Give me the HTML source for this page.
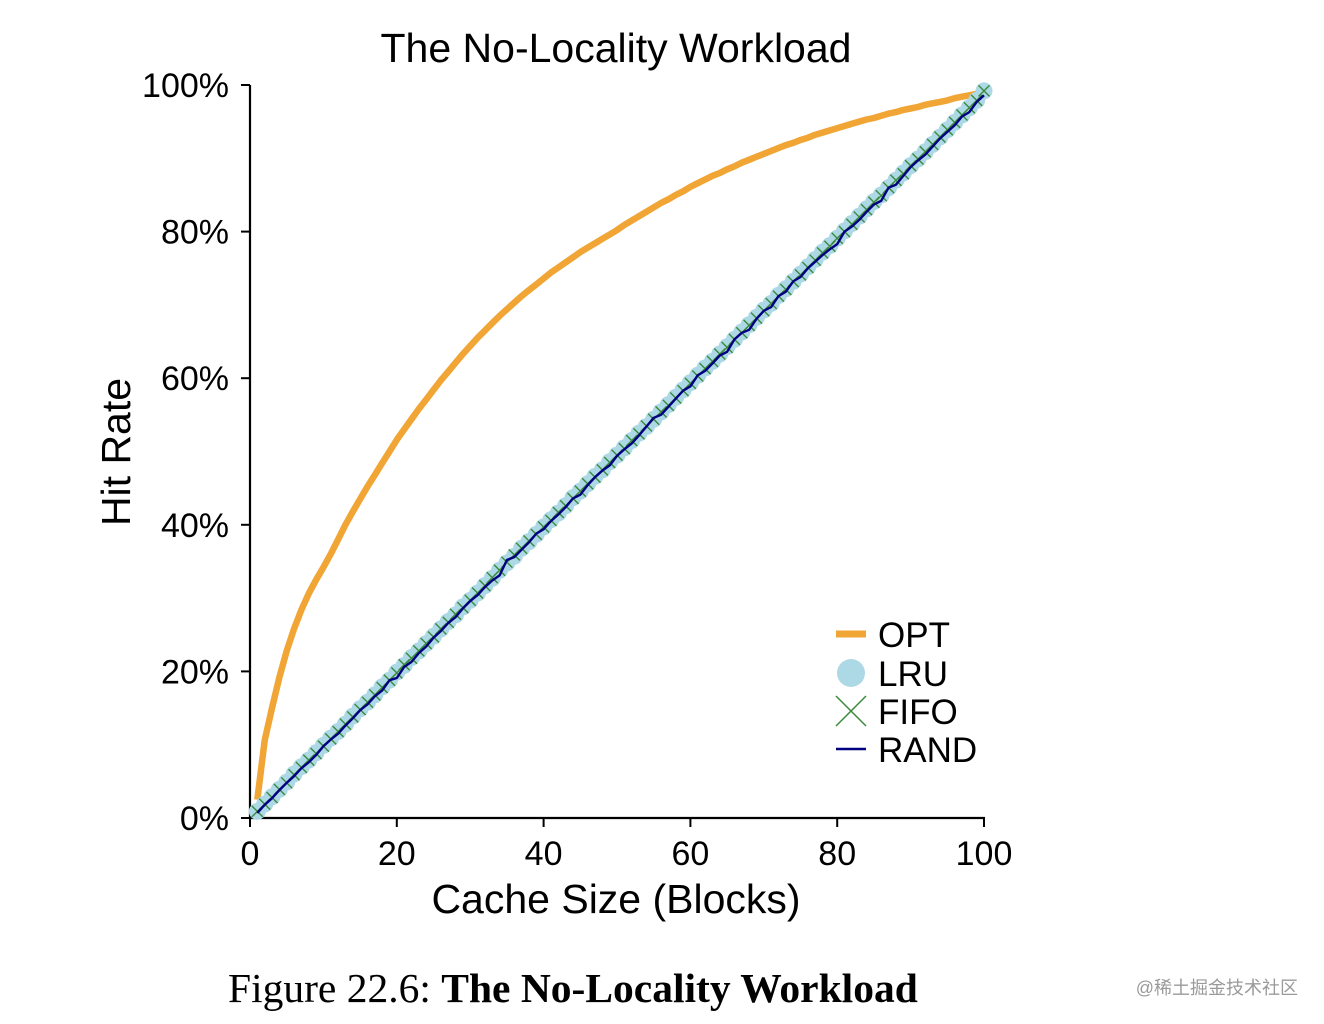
<!DOCTYPE html>
<html><head><meta charset="utf-8"><style>
body{margin:0;background:#fff;}
svg{display:block;}
text{font-family:"Liberation Sans",sans-serif;}
</style></head><body>
<svg id="chart" width="1324" height="1024" viewBox="0 0 1324 1024">
<text x="616" y="62" font-size="41" text-anchor="middle">The No-Locality Workload</text>
<g id="axes"></g>
<g id="series"></g>
<text x="616" y="913" font-size="41" text-anchor="middle">Cache Size (Blocks)</text>
<text transform="translate(130,452) rotate(-90)" font-size="41" text-anchor="middle">Hit Rate</text>
<g>
<line x1="836" y1="634" x2="866" y2="634" stroke="#f0a535" stroke-width="7"/>
<text x="878" y="647" font-size="35">OPT</text>
<circle cx="851" cy="673" r="14" fill="#add8e6"/>
<text x="878" y="686" font-size="35">LRU</text>
<path d="M836 696 L866 726 M866 696 L836 726" stroke="#3a8a3a" stroke-width="1.5"/>
<text x="878" y="724" font-size="35">FIFO</text>
<line x1="836" y1="749" x2="866" y2="749" stroke="#000080" stroke-width="2.5"/>
<text x="878" y="762" font-size="35">RAND</text>
</g>
<text x="228" y="1002" font-size="41.5" style="font-family:'Liberation Serif',serif">Figure 22.6: <tspan font-weight="bold">The No-Locality Workload</tspan></text>
<text x="1298" y="994" font-size="18" fill="#9a9a9a" text-anchor="end" style="font-family:'Liberation Sans','Noto Sans CJK SC',sans-serif">@稀土掘金技术社区</text>
</svg>
<script>
const xTicks=[0,20,40,60,80,100];
const yTicks=[0,20,40,60,80,100];
const yTickLabels=["0%","20%","40%","60%","80%","100%"];
const cacheSizes=[1,2,3,4,5,6,7,8,9,10,11,12,13,14,15,16,17,18,19,20,21,22,23,24,25,26,27,28,29,30,31,32,33,34,35,36,37,38,39,40,41,42,43,44,45,46,47,48,49,50,51,52,53,54,55,56,57,58,59,60,61,62,63,64,65,66,67,68,69,70,71,72,73,74,75,76,77,78,79,80,81,82,83,84,85,86,87,88,89,90,91,92,93,94,95,96,97,98,99,100];
const optRates=[2.5,10.6,15,19.2,22.8,25.8,28.4,30.6,32.5,34.2,36,38,40,41.8,43.5,45.2,46.8,48.4,50,51.6,53,54.4,55.8,57.1,58.4,59.7,60.9,62.1,63.3,64.4,65.5,66.5,67.5,68.5,69.4,70.3,71.2,72,72.8,73.6,74.4,75.1,75.8,76.5,77.2,77.8,78.4,79,79.6,80.2,80.9,81.5,82.1,82.7,83.3,83.9,84.4,85,85.5,86.1,86.6,87.1,87.6,88,88.5,88.9,89.4,89.8,90.2,90.6,91,91.4,91.8,92.1,92.5,92.8,93.2,93.5,93.8,94.1,94.4,94.7,95,95.3,95.5,95.8,96.1,96.3,96.6,96.8,97,97.3,97.5,97.7,97.9,98.2,98.4,98.6,98.8,99];
const lruRates=[0.9,1.9,2.9,3.9,4.9,6,7,7.9,8.9,9.9,10.9,11.8,12.8,13.9,14.9,15.8,16.8,17.9,18.8,19.9,20.8,21.9,22.8,23.8,24.8,25.8,26.8,27.7,28.8,29.7,30.7,31.7,32.7,33.8,34.8,35.7,36.8,37.7,38.7,39.7,40.7,41.6,42.6,43.7,44.6,45.6,46.6,47.5,48.6,49.5,50.5,51.5,52.5,53.4,54.4,55.4,56.4,57.4,58.4,59.4,60.4,61.4,62.3,63.3,64.3,65.3,66.3,67.3,68.3,69.3,70.2,71.3,72.2,73.2,74.2,75.2,76.2,77.2,78.1,79.1,80.1,81.1,82.1,83.1,84.1,85,86,87,88,89,89.9,90.9,91.9,92.9,93.9,94.9,95.9,96.9,97.9,99.2];
const fifoRates=[0.9,1.9,2.8,3.9,4.8,5.9,6.9,7.9,8.8,9.8,10.8,11.8,12.8,13.8,14.8,15.8,16.8,17.8,18.8,19.8,20.9,21.8,22.8,23.8,24.7,25.8,26.7,27.8,28.7,29.7,30.7,31.7,32.8,33.8,34.9,35.9,36.8,37.8,38.7,39.7,40.6,41.7,42.6,43.6,44.6,45.6,46.5,47.5,48.5,49.5,50.4,51.5,52.4,53.5,54.4,55.4,56.3,57.3,58.3,59.3,60.3,61.3,62.3,63.3,64.2,65.3,66.2,67.2,68.2,69.2,70.2,71.2,72.1,73.2,74.1,75.1,76.1,77.1,78,79.1,80,81,82,83,84,84.9,86,87,87.9,89,89.9,90.9,91.9,92.9,93.9,94.9,95.9,96.9,97.9,99.2];
const randRates=[0.7,1.8,2.7,3.8,4.8,5.7,6.8,7.6,8.6,9.8,10.7,11.5,12.6,13.6,14.7,15.5,16.6,17.4,18.8,19.1,20.6,21.3,22.5,23.4,24.6,25.5,26.6,27.4,28.6,29.6,30.4,31.5,32.4,33.1,35.2,35.6,36.6,37.6,38.8,39.4,40.5,41.4,42.4,43.6,44.1,45.4,46.5,47.4,48.1,49.4,50.3,51.1,52.2,53.4,54.6,55,56.1,57.2,58.3,58.9,60.4,61,62,63.1,63.6,65.3,66.2,66.6,68.1,69.2,69.7,71.2,71.8,73.2,73.8,75,75.9,76.8,77.6,78.3,80,80.7,81.6,82.7,83.7,84.2,86,86.4,87.6,88.8,89.7,90.5,91.6,92.7,93.6,94.5,95.7,96.3,97.7,98.6];

const NS="http://www.w3.org/2000/svg";
const X0=250,X1=984,Y0=818,Y1=85;
function sx(v){return X0+(v/100)*(X1-X0);}
function sy(v){return Y0-(v/100)*(Y0-Y1);}
function mk(tag,attrs,parent){const e=document.createElementNS(NS,tag);for(const k in attrs)e.setAttribute(k,attrs[k]);parent.appendChild(e);return e;}
const axes=document.getElementById('axes');
const series=document.getElementById('series');

const xAxis=mk('line',{x1:X0,y1:Y0,x2:X1+1,y2:Y0,stroke:'#000','stroke-width':2.2},axes);


const yAxis=mk('line',{x1:X0,y1:Y0+1,x2:X0,y2:Y1,stroke:'#000','stroke-width':2.2},axes);


xTicks.forEach(t=>{
  const tk=mk('line',{x1:sx(t),y1:Y0,x2:sx(t),y2:Y0+9,stroke:'#000','stroke-width':2},axes);
  
  
  const lb=mk('text',{x:sx(t),y:Y0+47,'font-size':34,'text-anchor':'middle'},axes);
  lb.textContent=String(t);
  
  
});
yTicks.forEach((t,i)=>{
  const tk=mk('line',{x1:X0-9,y1:sy(t),x2:X0,y2:sy(t),stroke:'#000','stroke-width':2},axes);
  
  
  const lb=mk('text',{x:X0-21,y:sy(t)+12,'font-size':34,'text-anchor':'end'},axes);
  lb.textContent=yTickLabels[i];
  
  
});
function pathOf(vals){return vals.map((v,i)=>(i?'L':'M')+sx(cacheSizes[i]).toFixed(1)+' '+sy(v).toFixed(1)).join(' ');}

const opt=mk('path',{d:pathOf(optRates),fill:'none',stroke:'#f0a535','stroke-width':6.5,'stroke-linejoin':'round'},series);



const lruG=mk('g',{},series);


lruRates.forEach((v,i)=>{
  const c=mk('circle',{cx:sx(cacheSizes[i]),cy:sy(v),r:8.5,fill:'#add8e6'},lruG);
  
  
});
const fifoG=mk('g',{},series);


fifoRates.forEach((v,i)=>{
  const x=sx(cacheSizes[i]),y=sy(v),s=5.5;
  const p=mk('path',{d:`M${x-s} ${y-s} L${x+s} ${y+s} M${x+s} ${y-s} L${x-s} ${y+s}`,stroke:'#3a8a3a','stroke-width':1.4,fill:'none'},fifoG);
  
  
});
const rand=mk('path',{d:pathOf(randRates),fill:'none',stroke:'#000080','stroke-width':2.4,'stroke-linejoin':'round'},series);


</script>
</body></html>
